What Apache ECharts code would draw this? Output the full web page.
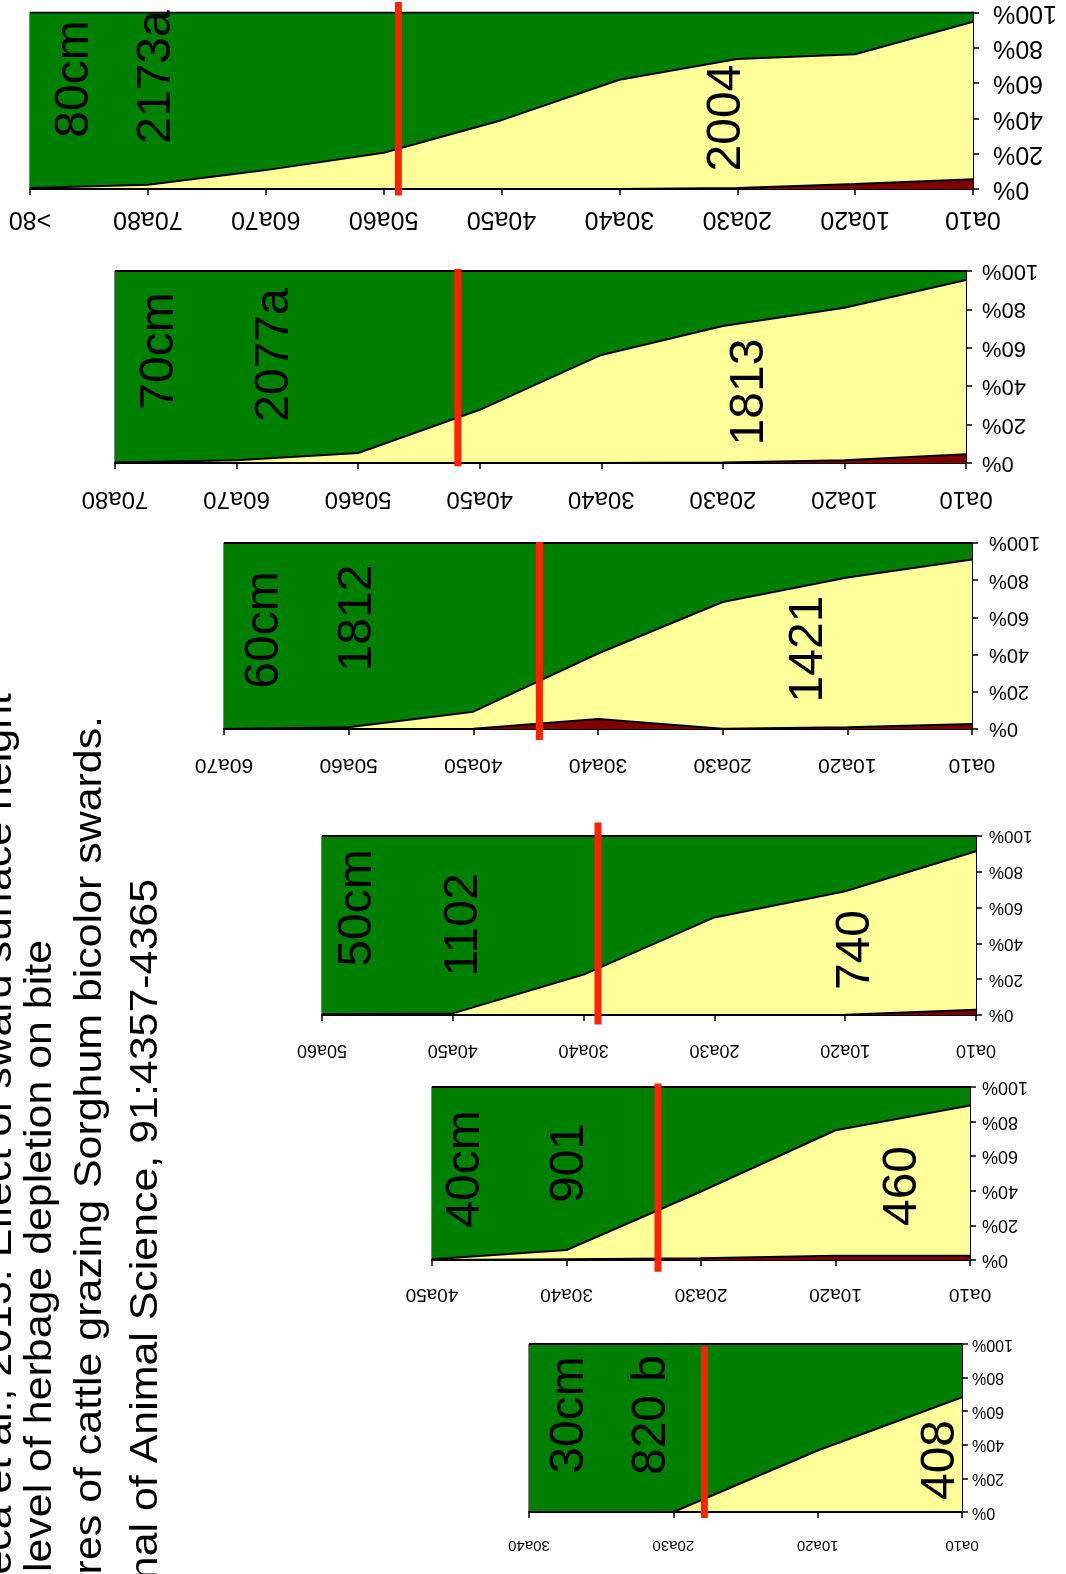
<!DOCTYPE html>
<html>
<head>
<meta charset="utf-8">
<script src="https://cdn.jsdelivr.net/npm/echarts@6/dist/echarts.min.js"></script>
<style>
  html, body { margin: 0; padding: 0; background: #fff; }
  #chart { width: 1066px; height: 1574px; }
</style>
</head>
<body>
<div id="chart"></div>
<script>
// Height classes along the horizontal axis (0a10 = lowest stratum)
const categories = ['0a10', '10a20', '20a30', '30a40', '40a50', '50a60', '60a70', '70a80', '>80'];

// Sward heights (one panel each) and bite-related figures written inside the panels
const swardHeights = ['80cm', '70cm', '60cm', '50cm', '40cm', '30cm'];
const upperFigures = ['2173a', '2077a', '1812', '1102', '901', '820 b'];
const lowerFigures = ['2004', '1813', '1421', '740', '460', '408'];

// Share of each stratum (%): dark = bottom layer, yellow = middle layer, green = top layer
const dark80   = [5.5, 2.8, 0.5, 0, 0, 0, 0, 0, 0];
const yellow80 = [89.3, 73.5, 73.1, 61.9, 39.0, 20.5, 10.7, 2.4, 0.5];
const green80  = [5.2, 23.7, 26.4, 38.1, 61.0, 79.5, 89.3, 97.6, 99.5];

const dark70   = [4.5, 1.4, 0.3, 0, 0, 0, 0, 0];
const yellow70 = [90.8, 79.5, 71.1, 56.3, 27.7, 5.2, 1.4, 0.3];
const green70  = [4.7, 19.1, 28.6, 43.7, 72.3, 94.8, 98.6, 99.7];

const dark60   = [2.7, 0.9, 0.2, 5.4, 0.2, 0, 0];
const yellow60 = [88.4, 80.5, 68.1, 35.2, 9.1, 0.9, 0];
const green60  = [8.9, 18.6, 31.7, 59.4, 90.7, 99.1, 100];

const dark50   = [3.0, 0.2, 0, 0, 0, 0];
const yellow50 = [88.5, 68.9, 54.5, 22.6, 0.9, 0.4];
const green50  = [8.5, 30.9, 45.5, 77.4, 99.1, 99.6];

const dark40   = [2.5, 2.5, 1.0, 0.5, 0];
const yellow40 = [86.8, 72.5, 38.6, 5.3, 0.4];
const green40  = [10.7, 25.0, 60.4, 94.2, 99.6];

const dark30   = [0, 0, 0, 0];
const yellow30 = [68.3, 36.6, 0, 0];
const green30  = [31.7, 63.4, 100, 100];

// Depletion marker: position on the class axis (0 = 0a10) and its vertical span (%)
const markerPos    = [4.875, 4.18, 3.47, 2.89, 2.32, 1.785];
const markerTop    = [106, 101, 100.5, 107.6, 102, 99];
const markerBottom = [-3.7, -1.7, -5.9, -5.3, -6.8, -3.6];

// Value-axis ticks
const pctMin = 0, pctMax = 100, pctStep = 20;

// Citation block
const citationLines = [
  'Fonseca et al., 2013. Effect of sward surface height',
  'and level of herbage depletion on bite',
  'features of cattle grazing Sorghum bicolor swards.',
  'Journal of Animal Science, 91:4357-4365'
];

const panelData = [
  [dark80, yellow80, green80],
  [dark70, yellow70, green70],
  [dark60, yellow60, green60],
  [dark50, yellow50, green50],
  [dark40, yellow40, green40],
  [dark30, yellow30, green30]
];

// ---- layout (pixels) ----
const panelRects = [
  { left: 30,  right: 973, top: 4,    bottom: 189 },
  { left: 115, right: 966, top: 271,  bottom: 463 },
  { left: 224, right: 972, top: 543,  bottom: 729 },
  { left: 322, right: 976, top: 836,  bottom: 1015 },
  { left: 432, right: 970, top: 1087, bottom: 1260 },
  { left: 529, right: 962, top: 1344, bottom: 1512 }
];
const ARIAL = '"Liberation Sans", Arial, sans-serif';
const NARROW = '"Liberation Sans Narrow", "Arial Narrow", "Liberation Sans", sans-serif';
const labelFamily = [ARIAL, ARIAL, ARIAL, ARIAL, NARROW, NARROW];
const xFont   = [25, 24, 21, 18, 19, 15];
const xMargin = [17, 24, 25, 26, 25, 26];
const yFont   = [25, 22, 20, 17, 18, 16];
const yMargin = [20, 16, 17, 13, 12, 10];

const textPos = [
  [[75, 79],   [157, 77],   [727, 118]],
  [[160, 351], [275, 355],  [750, 392]],
  [[265, 630], [358, 618],  [809, 649]],
  [[358, 908], [464, 925],  [856, 950]],
  [[466, 1169],[570, 1163], [903, 1186]],
  [[570, 1415],[652, 1415], [941, 1460]]
];
const citationX   = [0, 40, 90, 146];
const citationEnd = [693, 940, 716, 879];

const colors = { dark: '#800000', yellow: '#FFFF99', green: '#008000', marker: '#FF2200' };
const W = 1066, H = 1574;

const chart = echarts.init(document.getElementById('chart'), null, { renderer: 'canvas', width: W, height: H });

const grid = [], xAxis = [], yAxis = [], series = [], graphic = [];

panelData.forEach((layers, i) => {
  const r = panelRects[i];
  const n = layers[0].length;
  grid.push({
    left: r.left, top: r.top, width: r.right - r.left, height: r.bottom - r.top,
    show: true, borderColor: '#000', borderWidth: 1, backgroundColor: 'transparent'
  });
  // class axis
  xAxis.push({
    type: 'category', gridIndex: i, data: categories.slice(0, n),
    boundaryGap: false, inverse: true,
    axisLine: { show: true, lineStyle: { color: '#000', width: 2 } },
    axisTick: { show: true, length: 6, interval: 0, lineStyle: { color: '#000', width: 1.5 } },
    axisLabel: { interval: 0, rotate: 180, color: '#000', fontFamily: labelFamily[i],
                 fontSize: xFont[i], margin: xMargin[i] },
    splitLine: { show: false }
  });
  // numeric twin of the class axis for the depletion marker
  xAxis.push({ type: 'value', gridIndex: i, min: 0, max: n - 1, inverse: true, show: false });
  yAxis.push({
    type: 'value', gridIndex: i, position: 'right', min: pctMin, max: pctMax, interval: pctStep,
    axisLine: { show: true, lineStyle: { color: '#000', width: 2 } },
    axisTick: { show: true, length: 6, lineStyle: { color: '#000', width: 1.5 } },
    axisLabel: { formatter: '{value}%', rotate: 180, color: '#000',
                 fontFamily: labelFamily[i], fontSize: yFont[i], margin: yMargin[i] },
    splitLine: { show: false }
  });
  const layerColors = [colors.dark, colors.yellow, colors.green];
  layers.forEach((vals, k) => {
    series.push({
      type: 'line', xAxisIndex: 2 * i, yAxisIndex: i, stack: 'p' + i,
      data: vals, symbol: 'none', smooth: false,
      color: layerColors[k],
      lineStyle: { color: '#000', width: 2 },
      areaStyle: { color: layerColors[k], opacity: 1 },
      z: 2, silent: true
    });
  });
  series.push({
    type: 'line', xAxisIndex: 2 * i + 1, yAxisIndex: i, clip: false,
    data: [[markerPos[i], markerBottom[i]], [markerPos[i], markerTop[i]]],
    symbol: 'none', lineStyle: { color: colors.marker, width: 7, cap: 'butt' },
    z: 6, silent: true
  });

  const labels = [swardHeights[i], upperFigures[i], lowerFigures[i]];
  labels.forEach((t, k) => {
    graphic.push({
      type: 'text', x: textPos[i][k][0], y: textPos[i][k][1], rotation: Math.PI / 2, z: 100,
      style: { text: t, fill: '#000', font: '48px ' + ARIAL,
               align: 'center', verticalAlign: 'middle' }
    });
  });
});

citationLines.forEach((t, k) => {
  graphic.push({
    type: 'text', x: citationX[k], y: citationEnd[k], rotation: Math.PI / 2, scaleX: 1.1, z: 100,
    style: { text: t, fill: '#000', font: '39px ' + ARIAL,
             align: 'right', verticalAlign: 'middle' }
  });
});

chart.setOption({
  backgroundColor: '#fff',
  animation: false,
  grid, xAxis, yAxis, series, graphic
});
</script>
</body>
</html>
